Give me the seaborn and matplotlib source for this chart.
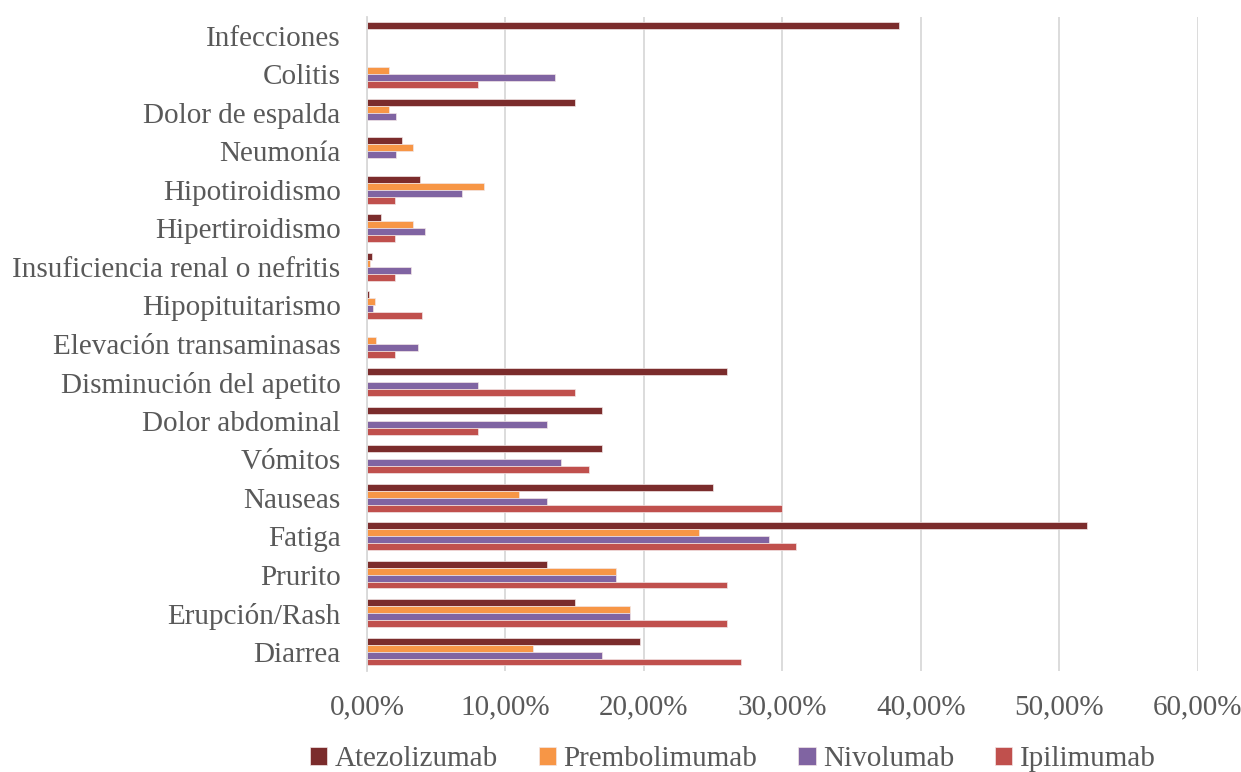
import pandas as pd
import numpy as np
import matplotlib
matplotlib.use("Agg")
import matplotlib.pyplot as plt
import seaborn as sns
from matplotlib.ticker import FuncFormatter, MultipleLocator

# === datos (porcentajes) ===
categorias = ["Infecciones", "Colitis", "Dolor de espalda", "Neumonía", "Hipotiroidismo",
              "Hipertiroidismo", "Insuficiencia renal o nefritis", "Hipopituitarismo",
              "Elevación transaminasas", "Disminución del apetito", "Dolor abdominal",
              "Vómitos", "Nauseas", "Fatiga", "Prurito", "Erupción/Rash", "Diarrea"]
series = ["Atezolizumab", "Prembolimumab", "Nivolumab", "Ipilimumab"]
atezolizumab = [38.4, 0, 15, 2.55, 3.85, 1, 0.34, 0.15, 0, 26, 17, 17, 25, 52, 13, 15, 19.7]
prembolimumab = [0, 1.6, 1.56, 3.35, 8.45, 3.35, 0.24, 0.55, 0.65, 0, 0, 0, 11, 24, 18, 19, 12]
nivolumab = [0, 13.55, 2.1, 2.1, 6.86, 4.16, 3.15, 0.43, 3.66, 8, 13, 14, 13, 29, 18, 19, 17]
ipilimumab = [0, 8, 0, 0, 2, 2, 2, 4, 2, 15, 8, 16, 30, 31, 26, 26, 27]
colores = ["#7B2C2C", "#F79646", "#8064A2", "#C0504D"]

valores = [atezolizumab, prembolimumab, nivolumab, ipilimumab]
df = pd.DataFrame({
    "Categoria": categorias * len(series),
    "Serie": np.repeat(series, len(categorias)),
    "Valor": np.concatenate(valores),
})

sns.set_style("white")
plt.rcParams["font.family"] = ["Liberation Serif", "DejaVu Serif"]
gris = "#595959"

fig = plt.figure(figsize=(12.41, 7.72), dpi=100)
ax = fig.add_axes([0.2957, 0.131, 0.6696, 0.8476])

sns.barplot(data=df, y="Categoria", x="Valor", hue="Serie", order=categorias,
            hue_order=series, palette=colores, orient="h", width=0.72, saturation=1,
            edgecolor="#F2E6E6", linewidth=0.5, ax=ax)

ax.set_xlim(0, 60)
ax.xaxis.set_major_locator(MultipleLocator(10))
ax.xaxis.set_major_formatter(FuncFormatter(lambda v, p: f"{v:.2f}%".replace(".", ",")))
ax.grid(axis="x", color="#D9D9D9", linewidth=1.3)
ax.set_axisbelow(True)
for s in ["top", "right", "bottom"]:
    ax.spines[s].set_visible(False)
ax.spines["left"].set_color("#D9D9D9")
ax.spines["left"].set_linewidth(1.3)
ax.tick_params(axis="both", length=0, labelsize=21, colors=gris)
ax.tick_params(axis="y", pad=19)
ax.tick_params(axis="x", pad=17)
ax.set_xlabel("")
ax.set_ylabel("")

ax.legend(loc="center", bbox_to_anchor=(0.44, -0.135), ncol=4, frameon=False,
          fontsize=21, handlelength=0.6, handleheight=0.6, handletextpad=0.25,
          columnspacing=1.4, labelcolor=gris)

plt.savefig("out.png", dpi=100)
